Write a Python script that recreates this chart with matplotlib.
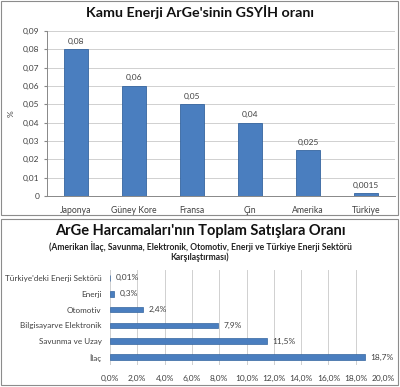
import matplotlib
matplotlib.use("Agg")
import matplotlib.pyplot as plt
from matplotlib.patches import Rectangle

countries = ["Japonya", "Güney Kore", "Fransa", "Çin", "Amerika", "Türkiye"]
gdp_share = [0.08, 0.06, 0.05, 0.04, 0.025, 0.0015]
gdp_labels = ["0,08", "0,06", "0,05", "0,04", "0,025", "0,0015"]
y_ticks = [0, 0.01, 0.02, 0.03, 0.04, 0.05, 0.06, 0.07, 0.08, 0.09]
y_ticklabels = ["0", "0,01", "0,02", "0,03", "0,04", "0,05", "0,06", "0,07", "0,08", "0,09"]

sectors = ["İlaç", "Savunma ve Uzay", "Bilgisayarve Elektronik", "Otomotiv", "Enerji",
           "Türkiye'deki Enerji Sektörü"]
sales_share = [18.7, 11.5, 7.9, 2.4, 0.3, 0.01]
sales_labels = ["18,7%", "11,5%", "7,9%", "2,4%", "0,3%", "0,01%"]
x_ticks = [0, 2, 4, 6, 8, 10, 12, 14, 16, 18, 20]
x_ticklabels = ["0,0%", "2,0%", "4,0%", "6,0%", "8,0%", "10,0%", "12,0%", "14,0%", "16,0%", "18,0%", "20,0%"]

plt.rcParams['font.family'] = ['Lato', 'DejaVu Sans']
BLUE = "#4A7EBF"
EDGE = "#35659F"
GRID = "#D0D0D0"
TXT = "#404040"

fig = plt.figure(figsize=(4.0, 3.87), dpi=100)
W, H = 400, 387

# panel borders
for (x0, y0, x1, y1) in [(1, 1, 398, 215), (1, 219, 398, 385)]:
    fig.patches.append(Rectangle((x0 / W, 1 - y1 / H), (x1 - x0) / W, (y1 - y0) / H,
                                 transform=fig.transFigure, fill=False,
                                 edgecolor="#8C8C8C", linewidth=0.8))

# top chart
ax1 = fig.add_axes([47 / W, 1 - 196 / H, 348 / W, 165 / H])
xs = range(len(countries))
ax1.bar(xs, gdp_share, width=0.42, color=BLUE, edgecolor=EDGE, linewidth=0.6, zorder=3)
for x, v, lab in zip(xs, gdp_share, gdp_labels):
    ax1.text(x, v + 0.0025, lab, ha="center", va="bottom", fontsize=6.0, color=TXT)
ax1.set_xlim(-0.5, len(countries) - 0.5)
ax1.set_ylim(0, 0.09)
ax1.set_yticks(y_ticks)
ax1.set_yticklabels(y_ticklabels, fontsize=6.0, color=TXT)
ax1.set_xticks(list(xs))
ax1.set_xticklabels(countries, fontsize=6.2, color=TXT)
ax1.tick_params(axis="x", length=0, pad=7)
ax1.tick_params(axis="y", length=2.5, color="#888888", pad=3)
ax1.grid(axis="y", color=GRID, linewidth=0.7, zorder=0)
for s in ["top", "right"]:
    ax1.spines[s].set_visible(False)
for s in ["left", "bottom"]:
    ax1.spines[s].set_color("#888888")
    ax1.spines[s].set_linewidth(0.7)
ax1.set_ylabel("%", fontsize=6.0, color=TXT, labelpad=6)
fig.text(0.5, 1 - 12 / H, "Kamu Enerji ArGe'sinin GSYİH oranı", ha="center", va="center",
         fontsize=10.3, fontweight="bold", color="#111111")

# bottom chart
ax2 = fig.add_axes([110 / W, 1 - 365 / H, 273 / W, 95 / H])
ys = range(len(sectors))
ax2.barh(ys, sales_share, height=0.36, color=BLUE, edgecolor=EDGE, linewidth=0.5, zorder=3)
for y, v, lab in zip(ys, sales_share, sales_labels):
    ax2.text(v + 0.4, y, lab, ha="left", va="center", fontsize=6.0, color=TXT)
ax2.set_xlim(0, 20)
ax2.set_ylim(-0.5, len(sectors) - 0.5)
ax2.set_xticks(x_ticks)
ax2.set_xticklabels(x_ticklabels, fontsize=6.0, color=TXT)
ax2.set_yticks(list(ys))
ax2.set_yticklabels(sectors, fontsize=5.9, color=TXT)
ax2.tick_params(axis="both", length=0)
ax2.tick_params(axis="x", pad=7)
ax2.tick_params(axis="y", pad=6)
ax2.grid(axis="x", color=GRID, linewidth=0.7, zorder=0)
for s in ax2.spines.values():
    s.set_visible(False)
fig.text(0.5, 1 - 231.5 / H, "ArGe Harcamaları'nın Toplam Satışlara Oranı", ha="center", va="center",
         fontsize=10.5, fontweight="bold", color="#111111")
fig.text(0.5, 1 - 247 / H, "(Amerikan İlaç, Savunma, Elektronik, Otomotiv, Enerji ve Türkiye Enerji Sektörü",
         ha="center", va="center", fontsize=6.2, fontweight="bold", color="#222222")
fig.text(0.5, 1 - 257.5 / H, "Karşılaştırması)", ha="center", va="center",
         fontsize=6.2, fontweight="bold", color="#222222")

fig.savefig("out.png", dpi=100, facecolor="white")
